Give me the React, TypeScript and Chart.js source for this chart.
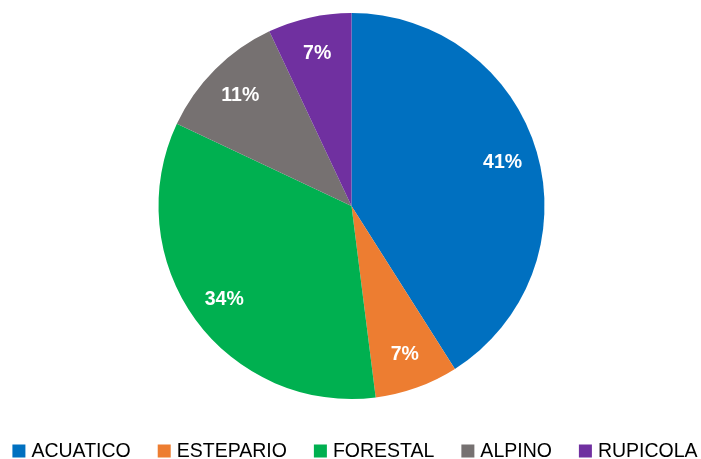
import React, { useEffect, useRef } from "react";
import { Chart, registerables } from "chart.js";

Chart.register(...registerables);

const categories = ["ACUATICO", "ESTEPARIO", "FORESTAL", "ALPINO", "RUPICOLA"];
const values = [41, 7, 34, 11, 7];
const colors = ["#0070C0", "#ED7D31", "#00B050", "#767171", "#7030A0"];

const FONT = "'Liberation Sans', Arial, sans-serif";

const sliceLabels = {
  id: "sliceLabels",
  afterDatasetsDraw(chart: any) {
    const ctx = chart.ctx;
    const meta = chart.getDatasetMeta(0);
    const data = chart.data.datasets[0].data as number[];
    const total = data.reduce((a, b) => a + b, 0);
    ctx.save();
    ctx.font = `bold 19.5px ${FONT}`;
    ctx.fillStyle = "#ffffff";
    ctx.textAlign = "center";
    ctx.textBaseline = "middle";
    meta.data.forEach((arc: any, i: number) => {
      const p = arc.getProps(["x", "y", "startAngle", "endAngle", "outerRadius"], true);
      const mid = (p.startAngle + p.endAngle) / 2;
      const r = p.outerRadius * 0.815;
      const x = p.x + Math.cos(mid) * r;
      const y = p.y + Math.sin(mid) * r;
      const pct = Math.round((data[i] / total) * 100);
      ctx.fillText(pct + "%", x, y + 1);
    });
    ctx.restore();
  },
};

const bottomLegend = {
  id: "bottomLegend",
  afterDraw(chart: any) {
    const ctx = chart.ctx;
    ctx.save();
    ctx.font = `19.5px ${FONT}`;
    ctx.textBaseline = "middle";
    ctx.textAlign = "left";
    const box = 13;
    const gap = 6;
    const itemGap = 27;
    const labels = chart.data.labels as string[];
    const bg = chart.data.datasets[0].backgroundColor as string[];
    const widths = labels.map((l) => ctx.measureText(l).width);
    const total =
      widths.reduce((a: number, b: number) => a + b, 0) +
      labels.length * (box + gap) +
      (labels.length - 1) * itemGap;
    let x = 355 - total / 2;
    const cy = 451;
    labels.forEach((l, i) => {
      ctx.fillStyle = bg[i];
      ctx.fillRect(x, cy - box / 2, box, box);
      x += box + gap;
      ctx.fillStyle = "#000000";
      ctx.fillText(l, x, cy + 1);
      x += widths[i] + itemGap;
    });
    ctx.restore();
  },
};

export default function App() {
  const ref = useRef<HTMLCanvasElement | null>(null);
  useEffect(() => {
    if (!ref.current) return;
    const chart = new Chart(ref.current, {
      type: "pie",
      data: {
        labels: categories,
        datasets: [
          {
            data: values,
            backgroundColor: colors,
            borderWidth: 0,
          },
        ],
      },
      options: {
        animation: false,
        responsive: false,
        maintainAspectRatio: false,
        layout: { padding: { top: 13, bottom: 60, left: 2, right: 0 } },
        plugins: {
          legend: { display: false },
          tooltip: { enabled: false },
        },
      },
      plugins: [sliceLabels, bottomLegend],
    });
    return () => chart.destroy();
  }, []);
  return (
    <div style={{ position: "absolute", left: 0, top: 0, width: 701, height: 459, background: "#fff" }}>
      <canvas ref={ref} width={701} height={459} style={{ width: 701, height: 459 }} />
    </div>
  );
}
